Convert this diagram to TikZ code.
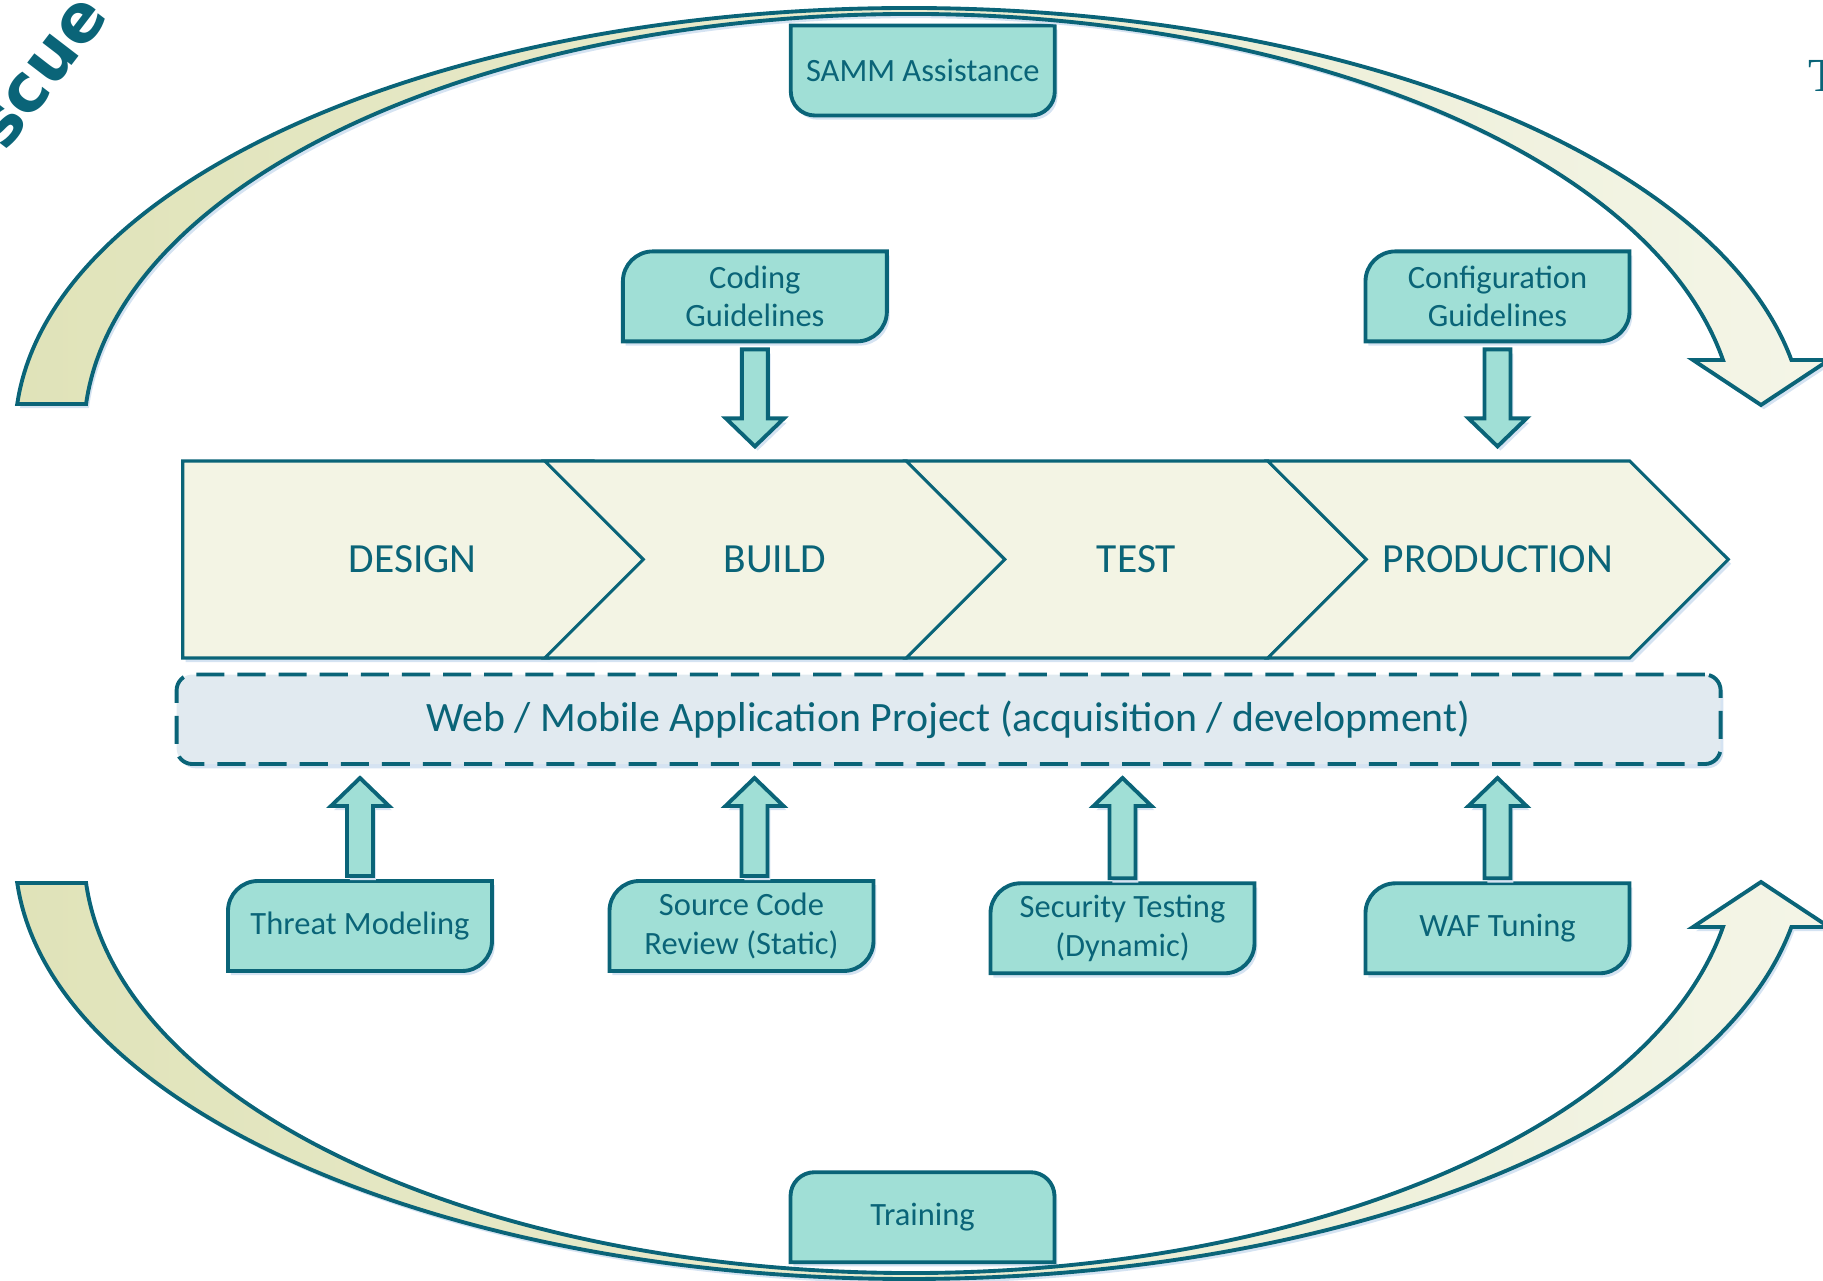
\documentclass[tikz,border=0pt]{standalone}
\usepackage{fontspec}
\setmainfont{Carlito}
\newfontfamily\boldsans{DejaVu Sans}
\newfontfamily\serifT{Liberation Serif}
\usetikzlibrary{calc,math,shapes.symbols,shadows,backgrounds}

\definecolor{lineteal}{HTML}{0A6478}
\definecolor{tilefill}{HTML}{A0DFD6}
\definecolor{stagefill}{HTML}{F3F4E4}
\definecolor{bandfill}{HTML}{E1EAF0}
\definecolor{loopdark}{HTML}{E0E3B9}
\definecolor{looplight}{HTML}{F4F5E7}
\definecolor{shdw}{HTML}{D5E3F2}

\tikzset{
  softshadow/.style={drop shadow={shadow xshift=0.8pt, shadow yshift=-1.2pt, fill=shdw, opacity=1}},
  stage/.style={signal, signal to=east, signal pointer angle=90, draw=lineteal, line width=0.9pt,
    fill=stagefill, minimum width=4.605cm, minimum height=1.97cm, inner sep=0pt,
    text=lineteal, font=\fontsize{11.8}{13}\selectfont, softshadow},
  band/.style={rectangle, rounded corners=4.5pt, draw=lineteal, line width=1.1pt,
    dash pattern=on 8pt off 3.7pt, fill=bandfill, minimum width=15.44cm, minimum height=0.895cm,
    text=lineteal, font=\fontsize{11.9}{13}\selectfont, softshadow},
  tiletext/.style={minimum width=2.64cm, minimum height=0.9cm, inner sep=0pt, outer sep=0pt,
    align=center, text=lineteal, font=\fontsize{9.25}{11}\selectfont},
  tile/.style={fill=tilefill, draw=lineteal, line width=1.1pt, softshadow},
  fat/.style={fill=tilefill, draw=lineteal, line width=1.1pt, line join=miter, softshadow},
  looparrow/.style={draw=lineteal, line width=1.1pt, left color=loopdark, right color=looplight,
    line join=miter, softshadow},
  cyclearrow/.pic={
    \path[looparrow] ($(9.10,8.47)+(175.96:8.95 and 4.26)$)
      arc[start angle=175.96, end angle=10, x radius=8.95, y radius=4.26]
      -- (18.29,9.21) -- (17.61,8.76) -- (16.93,9.21) -- (17.23,9.21)
      arc[start angle=10.15, end angle=175.9, x radius=8.26, y radius=4.20]
      -- cycle;
  }
}

% tiles with two rounded corners
\newcommand{\tileTLBR}[1]{%
  \path[tile] (#1.south west) -- ([yshift=-3mm]#1.north west)
    arc[start angle=180, end angle=90, radius=3mm] -- (#1.north east)
    -- ([yshift=3mm]#1.south east)
    arc[start angle=0, end angle=-90, radius=3mm] -- cycle;}
\newcommand{\tileBottom}[1]{%
  \path[tile] (#1.north west) -- ([yshift=2.4mm]#1.south west)
    arc[start angle=180, end angle=270, radius=2.4mm] -- ([xshift=-2.4mm]#1.south east)
    arc[start angle=270, end angle=360, radius=2.4mm] -- (#1.north east) -- cycle;}
\newcommand{\tileTop}[1]{%
  \path[tile] (#1.south west) -- ([yshift=-2.4mm]#1.north west)
    arc[start angle=180, end angle=90, radius=2.4mm] -- ([xshift=-2.4mm]#1.north east)
    arc[start angle=90, end angle=0, radius=2.4mm] -- (#1.south east) -- cycle;}
% vertical block arrow from #1 to the height of #2
\newcommand{\fatarrow}[2]{%
  \path[fat] let \p1=(#1), \p2=(#2), \p3=(\x1,\y2), \p4=($(\p3)!0.28cm!(\p1)$) in
    (\x1-0.13cm,\y1) -- (\x1-0.13cm,\y4) -- (\x1-0.29cm,\y4) -- (\p3)
    -- (\x1+0.29cm,\y4) -- (\x1+0.13cm,\y4) -- (\x1+0.13cm,\y1) -- cycle;}

\begin{document}
\begin{tikzpicture}
    \useasboundingbox (0,0) rectangle (18.23,12.81);

    % feedback loops
    \pic at (0,0) {cyclearrow};
    \pic[yscale=-1] at (0,12.75) {cyclearrow};

    % cut-off lettering at the edges
    \node[rotate=52.5, text=lineteal, font=\boldsans\bfseries\fontsize{19}{19}\selectfont] (scue) at (0.435,12.075) {scue};
    \node[anchor=north west, inner sep=0pt, text=lineteal, font=\serifT\fontsize{13.5}{13.5}\selectfont] (tcut) at (18.08,12.21) {T};

    % phases
    \node[stage, minimum width=5.095cm] (design) at (3.8825,7.215) {\hspace*{0.49cm}DESIGN};
    \node[stage, signal from=west] (build) at (7.75,7.215) {BUILD};
    \node[stage, signal from=west] (test) at (11.365,7.215) {TEST};
    \node[stage, signal from=west] (prod) at (14.98,7.215) {PRODUCTION};

    \node[band] (project) at (9.486,5.617) {Web / Mobile Application Project (acquisition / development)};

    % activities
    \node[tiletext] (samm) at (9.228,12.105) {SAMM Assistance};
    \node[tiletext] (coding) at (7.549,9.846) {Coding\\Guidelines};
    \node[tiletext] (config) at (14.975,9.846) {Configuration\\Guidelines};
    \node[tiletext] (threat) at (3.60,3.55) {Threat Modeling};
    \node[tiletext] (source) at (7.415,3.55) {Source Code\\Review (Static)};
    \node[tiletext] (security) at (11.225,3.527) {Security Testing\\(Dynamic)};
    \node[tiletext] (waf) at (14.975,3.527) {WAF Tuning};
    \node[tiletext] (training) at (9.225,0.638) {Training};

    \begin{scope}[on background layer]
        \tileBottom{samm}
        \tileTLBR{coding}
        \tileTLBR{config}
        \tileTLBR{threat}
        \tileTLBR{source}
        \tileTLBR{security}
        \tileTLBR{waf}
        \tileTop{training}
    \end{scope}

    \fatarrow{$(coding.south)+(0,-0.08)$}{$(build.north)+(0,0.13)$}
    \fatarrow{$(config.south)+(0,-0.08)$}{$(prod.north)+(0,0.13)$}
    \fatarrow{$(threat.north)+(0,0.05)$}{$(project.south)+(0,-0.12)$}
    \fatarrow{$(source.north)+(0.13,0.05)$}{$(project.south)+(0,-0.12)$}
    \fatarrow{$(security.north)+(0,0.05)$}{$(project.south)+(0,-0.12)$}
    \fatarrow{$(waf.north)+(0,0.05)$}{$(project.south)+(0,-0.12)$}
\end{tikzpicture}
\end{document}
